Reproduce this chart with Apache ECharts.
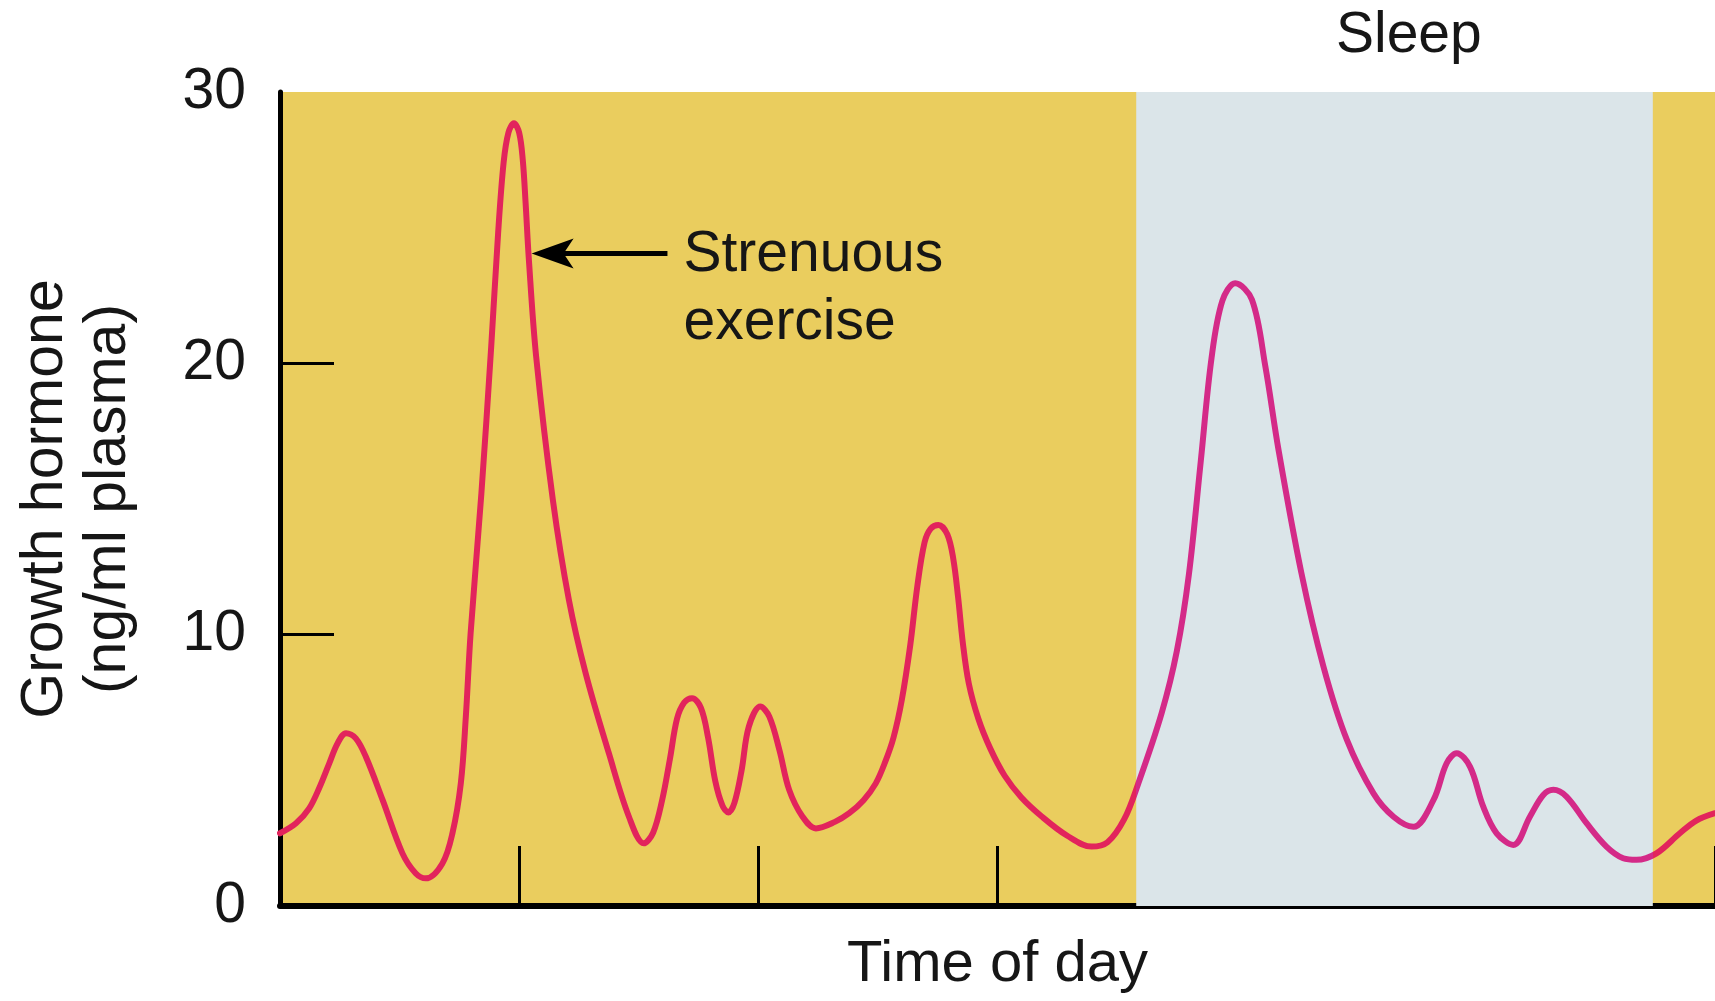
<!DOCTYPE html>
<html>
<head>
<meta charset="utf-8">
<script src="https://cdn.jsdelivr.net/npm/echarts@6/dist/echarts.min.js"></script>
<style>
  html, body { margin: 0; padding: 0; background: #ffffff; }
  #chart { width: 1715px; height: 1001px; }
</style>
</head>
<body>
<div id="chart"></div>
<script>
// ---- data ----
const timeOfDay = [0.00, 0.067, 0.122, 0.164, 0.206, 0.241, 0.276, 0.317, 0.359, 0.429, 0.512, 0.568, 0.61, 0.679, 0.721, 0.756, 0.777, 0.797, 0.842, 0.883, 0.912, 0.935, 0.955, 0.978, 1.0, 1.015, 1.027, 1.04, 1.071, 1.141, 1.208, 1.278, 1.375, 1.459, 1.521, 1.56, 1.598, 1.63, 1.66, 1.69, 1.723, 1.76, 1.79, 1.82, 1.85, 1.875, 1.90, 1.93, 1.96, 2.008, 2.046, 2.088, 2.129, 2.185, 2.241, 2.32, 2.38, 2.44, 2.491, 2.53, 2.565, 2.60, 2.635, 2.665, 2.695, 2.72, 2.753, 2.79, 2.815, 2.835, 2.855, 2.88, 2.92, 2.97, 3.03, 3.10, 3.185, 3.29, 3.393, 3.46, 3.53, 3.588, 3.686, 3.75, 3.80, 3.85, 3.895, 3.94, 3.994, 4.064, 4.12, 4.175, 4.27, 4.363, 4.461, 4.572, 4.656, 4.739, 4.823, 4.878, 4.92, 4.976, 5.031, 5.087, 5.157, 5.226, 5.282, 5.324, 5.379, 5.463, 5.546, 5.616, 5.672, 5.755, 5.853, 5.922, 6.0];
const growthHormone = [2.68, 3.05, 3.6, 4.35, 5.26, 6.0, 6.37, 6.18, 5.5, 3.91, 1.94, 1.2, 1.02, 1.57, 2.68, 4.52, 6.98, 10.05, 15.2, 20.6, 24.8, 27.4, 28.5, 28.85, 28.5, 27.5, 25.9, 23.9, 20.25, 14.96, 11.28, 8.58, 5.63, 3.29, 2.31, 2.7, 3.91, 5.4, 6.9, 7.5, 7.66, 7.3, 6.2, 4.6, 3.7, 3.45, 3.8, 5.0, 6.6, 7.35, 6.98, 5.75, 4.28, 3.29, 2.86, 3.1, 3.42, 3.9, 4.52, 5.3, 6.2, 7.6, 9.6, 11.8, 13.4, 13.9, 14.04, 13.7, 12.8, 11.4, 9.7, 8.2, 6.9, 5.8, 4.8, 4.0, 3.3, 2.6, 2.19, 2.35, 3.2, 4.5, 7.1, 9.4, 12.2, 16.4, 20.2, 22.3, 22.95, 22.34, 19.88, 16.81, 12.3, 8.82, 6.12, 4.15, 3.29, 2.92, 3.91, 5.26, 5.63, 5.13, 3.66, 2.68, 2.25, 3.29, 4.09, 4.28, 4.03, 3.05, 2.19, 1.76, 1.7, 1.94, 2.68, 3.15, 3.42];
const yTickLabels = [0, 10, 20, 30];
const yTickMarks = [10, 20];
const xTickMarks = [1, 2, 3, 4, 5, 6];
const sleepPeriod = [3.58, 5.74];
const exerciseArrow = { tip: [1.052, 24.05], tail: [1.62, 24.05] };
const exerciseText = { at: [1.687, 24.0], text: 'Strenuous\nexercise' };
const sleepText = { at: [4.72, 32.07], text: 'Sleep' };

const FONT = '"Liberation Sans", Arial, Helvetica, sans-serif';
const TEXT = '#161616';
const YELLOW = '#EACD5E';
const BLUE = '#DBE5E9';
const RED = '#E2245C';
const MAGENTA = '#D42A88';

const chart = echarts.init(document.getElementById('chart'), null, { renderer: 'canvas' });

const option = {
  animation: false,
  backgroundColor: '#ffffff',
  grid: {
    left: 280, right: -2, top: 92, bottom: 95,
    show: true, backgroundColor: YELLOW, borderWidth: 0
  },
  xAxis: {
    type: 'value', min: 0, max: 6, interval: 1,
    name: 'Time of day', nameLocation: 'middle', nameGap: 30,
    nameTextStyle: { fontFamily: FONT, fontSize: 58, color: TEXT },
    axisLine: { show: true, onZero: false, lineStyle: { color: '#000', width: 6 } },
    axisTick: { show: true, inside: true, length: 60, customValues: xTickMarks, lineStyle: { color: '#000', width: 3 } },
    axisLabel: { show: false },
    splitLine: { show: false }
  },
  yAxis: {
    type: 'value', min: 0, max: 30, interval: 10,
    name: 'Growth hormone\n(ng/ml plasma)', nameLocation: 'middle', nameGap: 140, nameRotate: 90,
    nameTextStyle: { fontFamily: FONT, fontSize: 59, color: TEXT, lineHeight: 63 },
    axisLine: { show: true, lineStyle: { color: '#000', width: 5 } },
    axisTick: { show: true, inside: true, length: 54, customValues: yTickMarks, lineStyle: { color: '#000', width: 3 } },
    axisLabel: { show: true, customValues: yTickLabels, margin: 34, fontFamily: FONT, fontSize: 57, color: TEXT },
    splitLine: { show: false }
  },
  visualMap: {
    type: 'piecewise', show: false, dimension: 0, seriesIndex: 0,
    pieces: [
      { lt: sleepPeriod[0], color: RED },
      { gte: sleepPeriod[0], lte: sleepPeriod[1], color: MAGENTA },
      { gt: sleepPeriod[1], color: RED }
    ]
  },
  series: [
    {
      type: 'line',
      data: timeOfDay.map((t, i) => [t, growthHormone[i]]),
      smooth: 0.35,
      showSymbol: false,
      symbol: 'none',
      clip: true,
      z: 5,
      lineStyle: { width: 6, cap: 'round', join: 'round' },
      markArea: {
        silent: true,
        itemStyle: { color: BLUE },
        data: [[{ xAxis: sleepPeriod[0] }, { xAxis: sleepPeriod[1] }]]
      }
    }
  ]
};
chart.setOption(option);

function px(pt) { return chart.convertToPixel({ gridIndex: 0 }, pt); }

const tip = px(exerciseArrow.tip);
const tail = px(exerciseArrow.tail);
const txt = px(exerciseText.at);
const sl = px(sleepText.at);

chart.setOption({
  graphic: [
    {
      type: 'line', z: 20,
      shape: { x1: tip[0] + 30, y1: tip[1], x2: tail[0], y2: tail[1] },
      style: { stroke: '#000', lineWidth: 5 }
    },
    {
      type: 'polygon', z: 20,
      shape: { points: [[tip[0], tip[1]], [tip[0] + 42, tip[1] - 15], [tip[0] + 32, tip[1]], [tip[0] + 42, tip[1] + 15]] },
      style: { fill: '#000' }
    },
    {
      type: 'text', z: 20,
      x: txt[0], y: txt[1] - 34,
      style: { text: exerciseText.text, fontFamily: FONT, fontSize: 57, fill: TEXT, lineHeight: 68, align: 'left', verticalAlign: 'top' }
    },
    {
      type: 'text', z: 20,
      x: sl[0], y: sl[1],
      style: { text: sleepText.text, fontFamily: FONT, fontSize: 57, fill: TEXT, align: 'center', verticalAlign: 'middle' }
    }
  ]
});
</script>
</body>
</html>
